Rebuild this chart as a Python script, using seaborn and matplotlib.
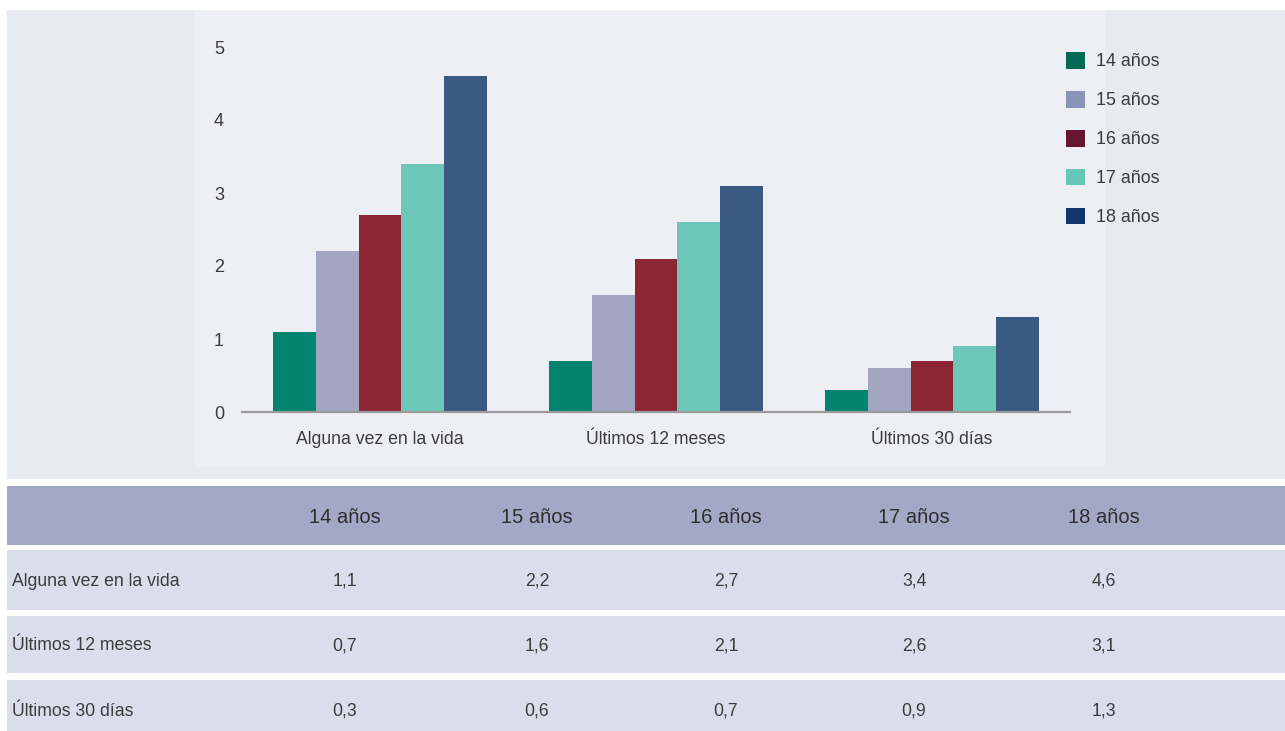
import matplotlib
matplotlib.use("Agg")
import matplotlib.pyplot as plt
from matplotlib.patches import Rectangle, Patch
import seaborn as sns
import pandas as pd

# ---- data ----
categories = ["Alguna vez en la vida", "Últimos 12 meses", "Últimos 30 días"]
ages = ["14 años", "15 años", "16 años", "17 años", "18 años"]
v14 = [1.1, 0.7, 0.3]
v15 = [2.2, 1.6, 0.6]
v16 = [2.7, 2.1, 0.7]
v17 = [3.4, 2.6, 0.9]
v18 = [4.6, 3.1, 1.3]
yticks = [0, 1, 2, 3, 4, 5]

bar_colors = ["#00846F", "#A2A6C1", "#8D2634", "#6CC7B9", "#3B5A83"]
legend_colors = ["#006A56", "#8A94B6", "#661631", "#66C6B8", "#0F356A"]

series = [v14, v15, v16, v17, v18]
rows = []
for age, vals in zip(ages, series):
    for cat, v in zip(categories, vals):
        rows.append({"cat": cat, "age": age, "val": v})
df = pd.DataFrame(rows)

sns.set_style("white")
plt.rcParams["font.family"] = ["Liberation Sans", "DejaVu Sans"]

W, H = 1285, 731
fig = plt.figure(figsize=(W / 100, H / 100), dpi=100)
fig.patch.set_facecolor("white")

def px_rect(x0, y0, x1, y1, color, z=-10):
    fig.patches.append(Rectangle((x0 / W, 1 - y1 / H), (x1 - x0) / W, (y1 - y0) / H,
                                 transform=fig.transFigure, facecolor=color,
                                 edgecolor="none", zorder=z))

# background panels
px_rect(7, 10, 1285, 479, "#E8EAF2")
px_rect(195, 10, 1105, 467, "#EEEFF4", z=-9)

# axes
ax = fig.add_axes([242 / W, 1 - 412 / H, 828 / W, 365 / H])
ax.set_facecolor("none")
ax.set_zorder(1)
sns.barplot(data=df, x="cat", y="val", hue="age", palette=bar_colors,
            width=0.772, gap=0, linewidth=0, saturation=1, ax=ax, legend=False)
ax.set_xlim(-0.5, 2.5)
ax.set_ylim(0, 5)
ax.set_yticks(yticks)
ax.set_yticklabels([str(t) for t in yticks])
ax.set_xlabel("")
ax.set_ylabel("")
for s in ["top", "right", "left"]:
    ax.spines[s].set_visible(False)
ax.spines["bottom"].set_color("#9A9A9A")
ax.spines["bottom"].set_linewidth(1.6)
ax.tick_params(axis="y", length=0, pad=13, labelsize=13, labelcolor="#3C3C3C")
ax.tick_params(axis="x", length=0, pad=13.5, labelsize=12.7, labelcolor="#3C3C3C")

# legend
handles = [Patch(facecolor=c, edgecolor="none") for c in legend_colors]
fig.legend(handles, ages, loc="upper left",
           bbox_to_anchor=(1066 / W, 1 - 52 / H), bbox_transform=fig.transFigure,
           frameon=False, fontsize=12.9, handlelength=1.06, handleheight=1.06,
           handletextpad=0.6, labelspacing=1.14, borderpad=0, borderaxespad=0,
           labelcolor="#3C3C3C")

# table
header_y = (486, 545)
row_ys = [(550, 610), (616, 673), (680, 731)]
col_x = [345, 537, 726, 914, 1104]
px_rect(7, header_y[0], 1285, header_y[1], "#A2A8C5")
for (y0, y1) in row_ys:
    px_rect(7, y0, 1285, y1, "#DCDDEA")

hy = 1 - (sum(header_y) / 2 + 2) / H
for x, a in zip(col_x, ages):
    fig.text(x / W, hy, a, ha="center", va="center", fontsize=14.5, color="#2E2E2E")

def fmt(v):
    return f"{v:.1f}".replace(".", ",")

row_centers = [580, 645, 710]
for i, cat in enumerate(categories):
    yc = 1 - (row_centers[i] + 1) / H
    fig.text(12 / W, yc, cat, ha="left", va="center", fontsize=12.7, color="#3C3C3C")
    for x, vals in zip(col_x, series):
        fig.text(x / W, yc, fmt(vals[i]), ha="center", va="center", fontsize=12.7,
                 color="#3C3C3C")

fig.savefig("out.png", dpi=100, facecolor="white")
